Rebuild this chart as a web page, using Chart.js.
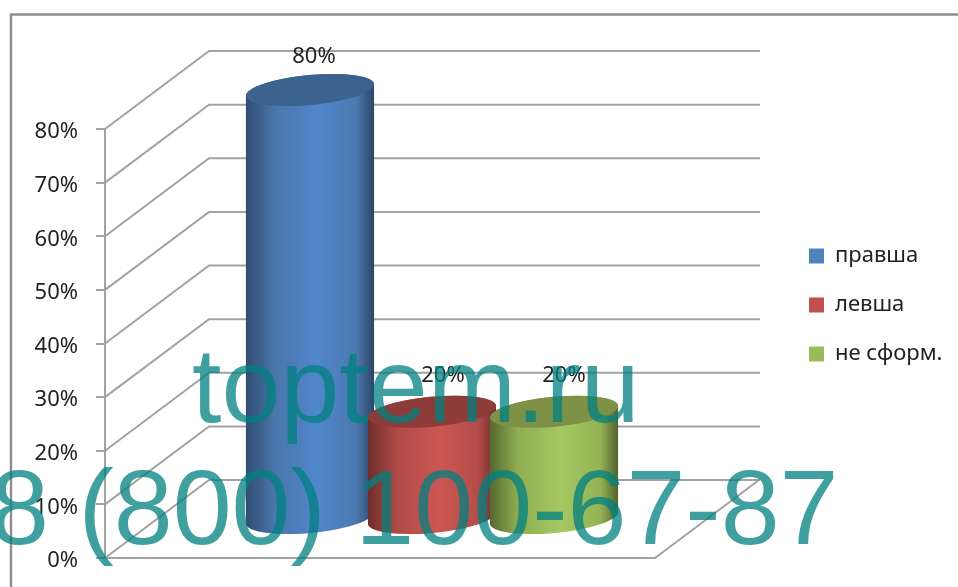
<!DOCTYPE html>
<html>
<head>
<meta charset="utf-8">
<style>html,body{margin:0;padding:0;background:#fff}canvas{display:block}</style>
<script src="https://cdn.jsdelivr.net/npm/chart.js@4"></script>
</head>
<body>
<canvas id="c" width="958" height="587"></canvas>
<script>
const categories = [''];
const seriesNames = ['правша', 'левша', 'не сформ.'];
const pravsha = [80];
const levsha = [20];
const neSform = [20];
const yTicks = [0, 10, 20, 30, 40, 50, 60, 70, 80];
const seriesColors = ['#4f81bd', '#c0504d', '#9bbb59'];
const watermarkLines = ['toptem.ru', '8 (800) 100-67-87'];

const FONT = '"Noto Sans", sans-serif';
const GRID = '#a2a2a2';
const DEPTH_X = 104, DEPTH_Y = 78;
const TILT = -5.4 * Math.PI / 180, RY = 15;
const shades = [
  {edgeL:'#304c72', mid1:'#4a76aa', mid:'#5086cb', mid2:'#4c7ab0', edgeR:'#2c4568', top:'#3c6290'},
  {edgeL:'#6e2e2c', mid1:'#ae4a46', mid:'#cb5752', mid2:'#b44d48', edgeR:'#6c2c2a', top:'#8e3c39'},
  {edgeL:'#566830', mid1:'#8fae52', mid:'#a6c862', mid2:'#94b355', edgeR:'#52632e', top:'#7d9147'}
];
const labelShift = [[4, -33], [11, -36], [10, -36]];

function drawCylinder(c, el, s) {
  const cx = el.x + DEPTH_X / 2;
  const yt = el.y - DEPTH_Y / 2, yb = el.base - DEPTH_Y / 2;
  const rx = el.width / 2 / Math.cos(TILT);
  const g = c.createLinearGradient(cx - el.width / 2, 0, cx + el.width / 2, 0);
  g.addColorStop(0, s.edgeL);
  g.addColorStop(0.22, s.mid1);
  g.addColorStop(0.55, s.mid);
  g.addColorStop(0.86, s.mid2);
  g.addColorStop(1, s.edgeR);
  c.save();
  c.beginPath();
  c.ellipse(cx, yb, rx, RY, TILT, Math.PI, 0, true);
  c.ellipse(cx, yt, rx, RY, TILT, 0, Math.PI, true);
  c.closePath();
  c.fillStyle = g;
  c.fill();
  c.beginPath();
  c.ellipse(cx, yt, rx, RY, TILT, 0, Math.PI * 2);
  c.fillStyle = s.top;
  c.fill();
  c.restore();
}

const scene3d = {
  id: 'scene3d',
  beforeDraw(chart) {
    const c = chart.ctx;
    c.save();
    c.fillStyle = '#fff';
    c.fillRect(0, 0, chart.width, chart.height);
    c.strokeStyle = '#8e8e8e';
    c.lineWidth = 2.4;
    c.beginPath();
    c.moveTo(11, chart.height);
    c.lineTo(11, 14.5);
    c.lineTo(chart.width, 14.5);
    c.stroke();
    c.restore();
  },
  beforeDatasetsDraw(chart) {
    const c = chart.ctx, y = chart.scales.y, a = chart.chartArea;
    c.save();
    c.strokeStyle = GRID;
    c.lineWidth = 2;
    yTicks.forEach(v => {
      const p = y.getPixelForValue(v);
      c.beginPath();
      c.moveTo(a.left, p);
      c.lineTo(a.left + DEPTH_X, p - DEPTH_Y);
      c.lineTo(a.right + DEPTH_X + 1, p - DEPTH_Y);
      if (v === 0) {
        c.moveTo(a.right, p);
        c.lineTo(a.right + DEPTH_X, p - DEPTH_Y);
      }
      c.stroke();
    });
    c.restore();
    chart.data.datasets.forEach((d, i) => {
      drawCylinder(c, chart.getDatasetMeta(i).data[0], shades[i]);
    });
  },
  beforeDatasetDraw() {
    return false;
  },
  afterDatasetsDraw(chart) {
    const c = chart.ctx;
    c.save();
    c.font = '22px ' + FONT;
    c.fillStyle = '#222';
    c.textAlign = 'center';
    c.textBaseline = 'middle';
    chart.data.datasets.forEach((d, i) => {
      const el = chart.getDatasetMeta(i).data[0];
      c.fillText(d.data[0] + '%',
        el.x + DEPTH_X / 2 + labelShift[i][0],
        el.y - DEPTH_Y / 2 + labelShift[i][1]);
    });
    c.restore();
  },
  afterLayout(chart) {
    const l = chart.legend;
    const w = 178, h = 200;
    l.left = 782; l.right = l.left + w; l.width = w;
    l.top = 218; l.bottom = l.top + h; l.height = h;
  },
  afterDraw(chart) {
    const c = chart.ctx;
    c.save();
    c.font = '106px "Liberation Sans", Arial, sans-serif';
    c.fillStyle = 'rgba(0,128,128,0.75)';
    c.textBaseline = 'alphabetic';
    c.textAlign = 'left';
    c.fillText(watermarkLines[0], 192, 422);
    c.fillText(watermarkLines[1], -10, 544);
    c.restore();
  }
};

new Chart(document.getElementById('c'), {
  type: 'bar',
  plugins: [scene3d],
  data: {
    labels: categories,
    datasets: [
      {label: seriesNames[0], data: pravsha, backgroundColor: seriesColors[0]},
      {label: seriesNames[1], data: levsha, backgroundColor: seriesColors[1]},
      {label: seriesNames[2], data: neSform, backgroundColor: seriesColors[2]}
    ]
  },
  options: {
    responsive: false,
    animation: false,
    devicePixelRatio: 1,
    categoryPercentage: 0.6655,
    barPercentage: 1.05,
    layout: {padding: {left: 0, top: 129, right: 303, bottom: 29}},
    plugins: {
      tooltip: {enabled: false},
      title: {display: false},
      legend: {
        position: 'chartArea',
        align: 'start',
        labels: {
          boxWidth: 15, boxHeight: 15, padding: 27,
          color: '#222',
          font: {family: FONT, size: 22}
        }
      }
    },
    scales: {
      x: {
        display: true,
        afterFit(s) { s.height = 0; },
        ticks: {display: false},
        grid: {display: false, drawTicks: false},
        border: {display: true, color: GRID, width: 2}
      },
      y: {
        min: 0, max: 80,
        afterFit(s) { s.width = 105; s.paddingTop = 0; s.paddingBottom = 0; },
        afterBuildTicks(s) { s.ticks = yTicks.map(v => ({value: v})); },
        ticks: {
          callback: v => v + '%',
          color: '#222',
          padding: 18,
          labelOffset: 3,
          font: {family: FONT, size: 22}
        },
        grid: {drawOnChartArea: false, drawTicks: true, tickLength: 9, color: GRID, lineWidth: 2},
        border: {display: true, color: GRID, width: 2}
      }
    }
  }
});
</script>
</body>
</html>
